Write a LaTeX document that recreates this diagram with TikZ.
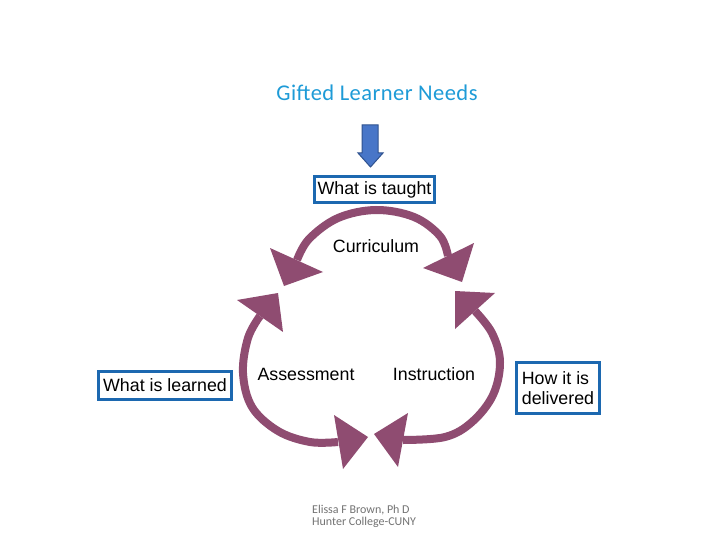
\documentclass[tikz,border=0pt]{standalone}
\usepackage{fontspec}
\setmainfont{Liberation Sans}
\newfontfamily\calfont{Carlito}
\definecolor{plum}{RGB}{143,76,113}
\definecolor{boxblue}{RGB}{28,104,176}
\definecolor{arrowfill}{RGB}{72,118,200}
\definecolor{arrowline}{RGB}{47,82,143}
\definecolor{titleblue}{RGB}{30,155,215}
\definecolor{footgrey}{RGB}{115,115,115}
\begin{document}
\begin{tikzpicture}[x=1pt,y=-1pt,
  bluebox/.style={draw=boxblue,line width=3pt,fill=white,inner sep=2pt,
    font=\fontsize{17.8}{20.5}\selectfont},
  cyclelabel/.style={anchor=base,inner sep=0pt,font=\fontsize{17.8}{20.5}\selectfont},
  cyclearc/.style={draw=plum,line width=8pt},
  cyclehead/.style={fill=plum},
  titletext/.style={anchor=base,inner sep=0pt,text=titleblue,
    font=\calfont\addfontfeature{LetterSpace=2}\fontsize{22.5}{25}\selectfont},
  foottext/.style={anchor=base west,inner sep=0pt,text=footgrey,
    font=\calfont\fontsize{12}{14}\selectfont}]
\useasboundingbox (0,0) rectangle (720,540);
\fill[white] (0,0) rectangle (720,540);

% title and block arrow
\node[titletext] (title) at (377,101) {Gifted Learner Needs};
\fill[arrowfill,draw=arrowline,line width=1pt]
  (362,125) -- (378,125) -- (378,153) -- (383,153) -- (370.5,167)
  -- (358,153) -- (362,153) -- cycle;

% boxes
\node[bluebox,minimum width=120,minimum height=26] (taught) at (374.5,189.5) {What is taught};
\node[bluebox,minimum width=133,minimum height=28] (learned) at (165,385.5) {What is learned};
\node[bluebox,minimum width=83,minimum height=51,align=left] (delivered) at (558,388)
  {How it is\\delivered};

% cycle labels
\node[cyclelabel] (curr) at (376,252) {Curriculum};
\node[cyclelabel] (assess) at (306,380) {Assessment};
\node[cyclelabel] (instr) at (434,380) {Instruction};

% arcs
\draw[cyclearc] plot[smooth,tension=0.6] coordinates
  {(297,260) (309,239) (338,218) (376,210) (414,217) (440,236) (448,256)};
\draw[cyclearc] plot[smooth,tension=0.6] coordinates
  {(260,316) (248,338) (243,373) (252,407) (278,431) (310,442) (338,442)};
\draw[cyclearc] plot[smooth,tension=0.6] coordinates
  {(475,311) (492,333) (500,362) (493,395) (472,422) (445,437) (403,440)};

% arrowheads
\fill[cyclehead] (270,248) -- (323,272) -- (284,286) -- cycle;
\fill[cyclehead] (423,268) -- (474,243) -- (462,282) -- cycle;
\fill[cyclehead] (237,300) -- (278,293) -- (283,332) -- cycle;
\fill[cyclehead] (455,291) -- (495,293) -- (455,329) -- cycle;
\fill[cyclehead] (334,415) -- (368,437) -- (343,469) -- cycle;
\fill[cyclehead] (408,413) -- (374,434) -- (398,467) -- cycle;

% footer
\node[foottext] (foot1) at (312,513) {Elissa F Brown, Ph D};
\node[foottext] (foot2) at (312,525.5) {Hunter College-CUNY};
\end{tikzpicture}
\end{document}
